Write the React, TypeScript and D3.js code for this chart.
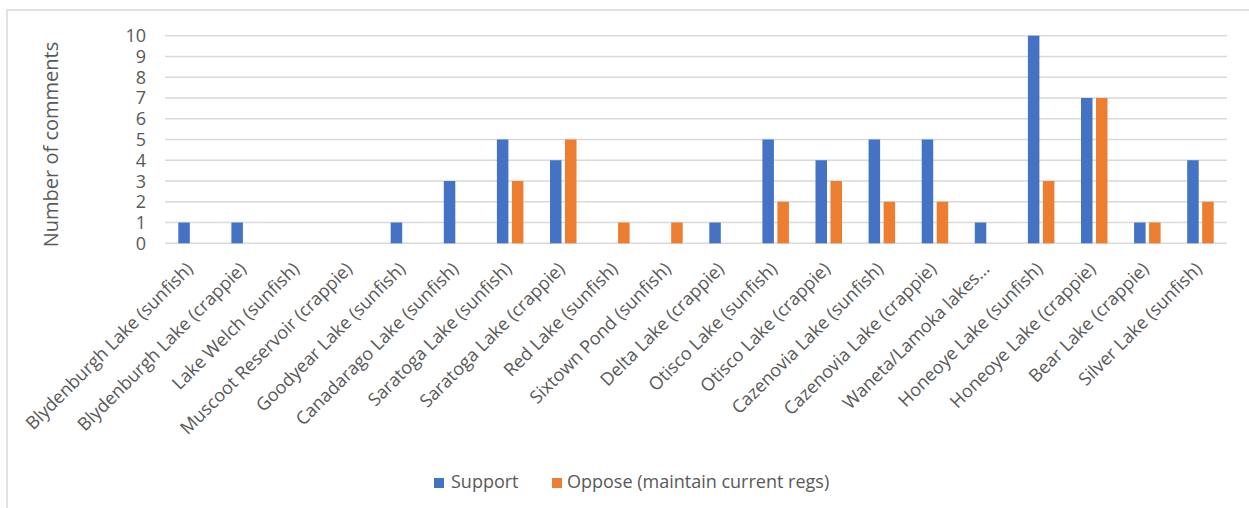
import React from "react";
import * as d3 from "d3";

const categories = [
  "Blydenburgh Lake (sunfish)",
  "Blydenburgh Lake (crappie)",
  "Lake Welch (sunfish)",
  "Muscoot Reservoir (crappie)",
  "Goodyear Lake (sunfish)",
  "Canadarago Lake (sunfish)",
  "Saratoga Lake (sunfish)",
  "Saratoga Lake (crappie)",
  "Red Lake (sunfish)",
  "Sixtown Pond (sunfish)",
  "Delta Lake (crappie)",
  "Otisco Lake (sunfish)",
  "Otisco Lake (crappie)",
  "Cazenovia Lake (sunfish)",
  "Cazenovia Lake (crappie)",
  "Waneta/Lamoka lakes…",
  "Honeoye Lake (sunfish)",
  "Honeoye Lake (crappie)",
  "Bear Lake (crappie)",
  "Silver Lake (sunfish)",
];
const supportValues = [1, 1, 0, 0, 1, 3, 5, 4, 0, 0, 1, 5, 4, 5, 5, 1, 10, 7, 1, 4];
const opposeValues = [0, 0, 0, 0, 0, 0, 3, 5, 1, 1, 0, 2, 3, 2, 2, 0, 3, 7, 1, 2];
const seriesNames = ["Support", "Oppose (maintain current regs)"];
const yTicks = [0, 1, 2, 3, 4, 5, 6, 7, 8, 9, 10];
const yTitle = "Number of comments";

const colors = ["#4472C4", "#ED7D31"];
const textColor = "#595959";
const gridColor = "#D9D9D9";
const font = "'Open Sans', 'Noto Sans', sans-serif";

export default function App() {
  const W = 1249;
  const H = 508;
  const left = 165;
  const right = 1227;
  const top = 35.7;
  const bottom = 243.3;

  const x0 = d3.scaleBand<string>().domain(categories).range([left, right]).padding(0);
  const bw = x0.bandwidth();
  const groupW = 26.5;
  const x1 = d3
    .scaleBand<string>()
    .domain(seriesNames)
    .range([bw / 2 - groupW / 2, bw / 2 + groupW / 2])
    .paddingInner(0.233)
    .paddingOuter(0);
  const y = d3.scaleLinear().domain([0, 10]).range([bottom, top]);

  const series = [supportValues, opposeValues];

  return (
    <svg
      width={W}
      height={H}
      style={{ position: "absolute", left: 0, top: 0, background: "#fff" }}
      fontFamily={font}
    >
      <rect x={0} y={0} width={W} height={H} fill="#fff" />
      <rect x={7} y={10} width={W + 20} height={H + 20} fill="none" stroke={gridColor} strokeWidth={1.5} />
      {yTicks.map((t) => (
        <g key={t}>
          <line x1={left} x2={right} y1={y(t)} y2={y(t)} stroke={gridColor} strokeWidth={1.5} />
          <text x={146} y={y(t)} dy="0.36em" textAnchor="end" fontSize={18} fill={textColor}>
            {t}
          </text>
        </g>
      ))}
      <text
        transform={`translate(58, ${(top + bottom) / 2 + 5}) rotate(-90)`}
        textAnchor="middle"
        fontSize={20}
        fill={textColor}
      >
        {yTitle}
      </text>
      {series.map((vals, si) =>
        vals.map((v, i) =>
          v > 0 ? (
            <rect
              key={`${si}-${i}`}
              x={(x0(categories[i]) as number) + (x1(seriesNames[si]) as number)}
              y={y(v)}
              width={x1.bandwidth()}
              height={y(0) - y(v)}
              fill={colors[si]}
            />
          ) : null
        )
      )}
      {categories.map((c) => {
        const cx = (x0(c) as number) + bw / 2;
        return (
          <text
            key={c}
            transform={`translate(${cx + 2.5}, 270) rotate(-45)`}
            textAnchor="end"
            fontSize={18}
            fill={textColor}
          >
            {c}
          </text>
        );
      })}
      <g>
        <rect x={434} y={478} width={10} height={10} fill={colors[0]} />
        <text x={451} y={488} fontSize={18} fill={textColor}>
          {seriesNames[0]}
        </text>
        <rect x={552} y={478} width={10} height={10} fill={colors[1]} />
        <text x={567} y={488} fontSize={18} fill={textColor}>
          {seriesNames[1]}
        </text>
      </g>
    </svg>
  );
}
